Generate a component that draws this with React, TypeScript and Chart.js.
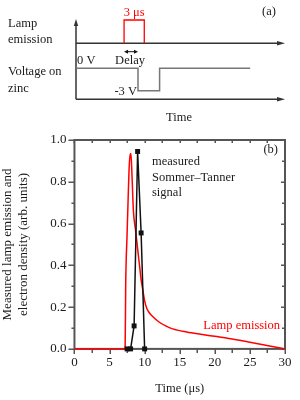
import React, { useEffect, useRef } from 'react';
import { Chart, registerables } from 'chart.js';
Chart.register(...registerables);

const FONT = '"Liberation Serif", "Times New Roman", serif';
const AXIS = '#555';
const TEXT = '#1a1a1a';
const RED = '#ff0000';

// ---- (a) timing diagram (schematic, arbitrary time units) ----
const pulseTime = [6.9, 6.9, 9.8, 9.8];
const pulseLevel = [0, 1, 1, 0];
const voltTime = [0, 8.9, 8.9, 12, 12, 25];
const voltLevel = [0, 0, -3, -3, 0, 0];
const delayFrom = 6.9;
const delayTo = 8.9;

// ---- (b) measured signals ----
const lampTime = [0, 7.22, 7.3, 7.5, 7.65, 7.8, 7.95, 8.05, 8.2, 8.4, 8.7, 9.0, 9.3, 9.5, 9.7, 10.0, 10.3, 10.7, 11, 12, 13, 14, 16, 18, 20, 22, 25, 28, 30];
const lampValue = [0, 0, 0.3, 0.55, 0.72, 0.87, 0.93, 0.935, 0.83, 0.66, 0.57, 0.48, 0.39, 0.33, 0.29, 0.23, 0.195, 0.172, 0.16, 0.13, 0.11, 0.096, 0.081, 0.07, 0.06, 0.05, 0.032, 0.013, 0];
const stTime = [7.5, 8, 8.5, 9, 9.5, 10];
const stValue = [0, 0, 0.11, 0.945, 0.555, 0];

const xTitle = 'Time (\u03bcs)';
const yTitle = ['Measured lamp emission and', 'electron density (arb. units)'];
const stLabel = ['measured', 'Sommer\u2013Tanner', 'signal'];

function arrowHead(ctx: CanvasRenderingContext2D, x: number, y: number, dx: number, dy: number, len: number, hw: number) {
  const nx = -dy, ny = dx;
  ctx.beginPath();
  ctx.moveTo(x, y);
  ctx.lineTo(x - dx * len + nx * hw, y - dy * len + ny * hw);
  ctx.lineTo(x - dx * len - nx * hw, y - dy * len - ny * hw);
  ctx.closePath();
  ctx.fill();
}

const topPlugin = {
  id: 'topDiagram',
  beforeDatasetsDraw(chart: any) {
    const { ctx, chartArea: a, scales } = chart;
    const yl = scales.yLamp;
    ctx.save();
    ctx.strokeStyle = '#333';
    ctx.fillStyle = '#333';
    ctx.lineWidth = 1.5;
    const base = yl.getPixelForValue(0);
    const right = a.right;
    ctx.beginPath();
    ctx.moveTo(a.left, a.bottom);
    ctx.lineTo(a.left, a.top + 4);
    ctx.stroke();
    arrowHead(ctx, a.left, a.top - 1, 0, -1, 7, 2.2);
    ctx.beginPath();
    ctx.moveTo(a.left, base);
    ctx.lineTo(right - 4, base);
    ctx.stroke();
    arrowHead(ctx, right, base, 1, 0, 8, 2.2);
    ctx.beginPath();
    ctx.moveTo(a.left, a.bottom);
    ctx.lineTo(right - 4, a.bottom);
    ctx.stroke();
    arrowHead(ctx, right, a.bottom, 1, 0, 8, 2.2);
    ctx.restore();
  },
  afterDatasetsDraw(chart: any) {
    const { ctx, chartArea: a, scales } = chart;
    const yl = scales.yLamp;
    const yv = scales.yVolt;
    const xs = scales.x;
    ctx.save();
    const dy = yl.getPixelForValue(-0.36);
    const x1 = xs.getPixelForValue(delayFrom);
    const x2 = xs.getPixelForValue(delayTo);
    ctx.strokeStyle = '#111';
    ctx.fillStyle = '#111';
    ctx.lineWidth = 1;
    ctx.beginPath();
    ctx.moveTo(x1 + 3, dy);
    ctx.lineTo(x2 - 3, dy);
    ctx.stroke();
    arrowHead(ctx, x1, dy, -1, 0, 4, 2);
    arrowHead(ctx, x2, dy, 1, 0, 4, 2);

    ctx.font = `12.5px ${FONT}`;
    ctx.textBaseline = 'middle';
    ctx.fillStyle = RED;
    ctx.textAlign = 'center';
    ctx.fillText('3 \u03bcs', (xs.getPixelForValue(pulseTime[0]) + xs.getPixelForValue(pulseTime[2])) / 2, yl.getPixelForValue(1) - 7);
    ctx.fillStyle = TEXT;
    ctx.fillText('Delay', (x1 + x2) / 2 - 1, dy + 9.5);
    ctx.fillText('Time', 179, a.bottom + 18);
    ctx.fillText('(a)', 269, 12);
    ctx.textAlign = 'left';
    ctx.fillText('0 V', a.left + 1, yv.getPixelForValue(0) - 7.5);
    ctx.fillText('Lamp', 8, 24);
    ctx.fillText('emission', 8, 39.5);
    ctx.fillText('Voltage on', 8, 72);
    ctx.fillText('zinc', 8, 89);
    ctx.textAlign = 'right';
    ctx.fillText('-3 V', xs.getPixelForValue(voltTime[2]) - 1, yv.getPixelForValue(-3) + 1.5);
    ctx.restore();
  },
};

const bottomPlugin = {
  id: 'bottomFrame',
  beforeDatasetsDraw(chart: any) {
    const { ctx, chartArea: a, scales } = chart;
    const xs = scales.x, ys = scales.y;
    ctx.save();
    ctx.strokeStyle = AXIS;
    ctx.lineWidth = 1.5;
    ctx.beginPath();
    xs.ticks.forEach((t: any) => {
      const px = Math.round(xs.getPixelForValue(t.value)) + 0.25;
      const major = Math.round(t.value * 10) % 50 === 0;
      ctx.moveTo(px, a.bottom);
      ctx.lineTo(px, a.bottom + (major ? 5 : 4));
      ctx.moveTo(px, a.top);
      ctx.lineTo(px, a.top + 3);
    });
    ys.ticks.forEach((t: any) => {
      const py = Math.round(ys.getPixelForValue(t.value)) + 0.25;
      const major = Math.round(t.value * 10) % 2 === 0;
      ctx.moveTo(a.left, py);
      ctx.lineTo(a.left - (major ? 6 : 3), py);
      ctx.moveTo(a.right, py);
      ctx.lineTo(a.right - (major ? 4 : 3), py);
    });
    ctx.stroke();
    ctx.lineWidth = 2;
    ctx.strokeRect(a.left, a.top, a.right - a.left, a.bottom - a.top);
    ctx.restore();
  },
  afterDatasetsDraw(chart: any) {
    const { ctx, chartArea: a, scales } = chart;
    const xs = scales.x, ys = scales.y;
    ctx.save();
    ctx.font = `12.5px ${FONT}`;
    ctx.textBaseline = 'middle';
    ctx.fillStyle = TEXT;
    ctx.textAlign = 'left';
    const ys0 = [0.895, 0.818, 0.746];
    stLabel.forEach((s, i) => ctx.fillText(s, xs.getPixelForValue(11.05), ys.getPixelForValue(ys0[i])));
    ctx.textAlign = 'right';
    ctx.fillText('(b)', a.right - 7, a.top + 10);
    ctx.fillStyle = RED;
    ctx.fillText('Lamp emission', xs.getPixelForValue(29.3), ys.getPixelForValue(0.11));
    ctx.restore();
  },
};

export default function App() {
  const topRef = useRef<HTMLCanvasElement>(null);
  const botRef = useRef<HTMLCanvasElement>(null);

  useEffect(() => {
    Chart.defaults.font.family = FONT;
    const top = new Chart(topRef.current!, {
      type: 'line',
      data: {
        datasets: [
          {
            data: pulseTime.map((t, i) => ({ x: t, y: pulseLevel[i] })),
            yAxisID: 'yLamp',
            borderColor: RED,
            borderWidth: 1.3,
            pointRadius: 0,
            tension: 0,
            clip: false,
          },
          {
            data: voltTime.map((t, i) => ({ x: t, y: voltLevel[i] })),
            yAxisID: 'yVolt',
            borderColor: '#777',
            borderWidth: 1.5,
            pointRadius: 0,
            tension: 0,
            clip: false,
          },
        ],
      },
      options: {
        responsive: false,
        animation: false,
        events: [],
        layout: { padding: { left: 76, right: 15, top: 20, bottom: 30.7 } },
        plugins: { legend: { display: false }, tooltip: { enabled: false } },
        scales: {
          x: { type: 'linear', min: 0, max: 30, display: false },
          yLamp: { type: 'linear', min: -2.403, max: 1, display: false },
          yVolt: { type: 'linear', min: -4.15, max: 6.47, display: false },
        },
      },
      plugins: [topPlugin],
    } as any);

    const bot = new Chart(botRef.current!, {
      type: 'line',
      data: {
        datasets: [
          {
            data: stTime.map((t, i) => ({ x: t, y: stValue[i] })),
            borderColor: '#111',
            backgroundColor: '#111',
            borderWidth: 1.5,
            pointStyle: 'rect',
            pointRadius: 3.5,
            pointBorderWidth: 0,
            tension: 0,
            clip: false,
            order: 0,
          },
          {
            data: lampTime.map((t, i) => ({ x: t, y: lampValue[i] })),
            borderColor: RED,
            borderWidth: 1.5,
            pointRadius: 0,
            cubicInterpolationMode: 'monotone',
            clip: false,
            order: 1,
          },
        ],
      },
      options: {
        responsive: false,
        animation: false,
        events: [],
        layout: { padding: { left: 0, right: 15, top: 10, bottom: 0 } },
        plugins: { legend: { display: false }, tooltip: { enabled: false } },
        scales: {
          x: {
            type: 'linear',
            min: 0,
            max: 30,
            grid: { display: false, drawTicks: false },
            border: { display: false },
            ticks: {
              stepSize: 2.5,
              autoSkip: false,
              maxRotation: 0,
              padding: 6,
              color: TEXT,
              font: { size: 13, family: FONT },
              callback: (v: any) => (Math.round(v * 10) % 50 === 0 ? String(v) : ''),
            },
            title: {
              display: true,
              text: xTitle,
              color: TEXT,
              font: { size: 12.5, family: FONT },
              padding: { top: 5, bottom: 3.5 },
            },
          },
          y: {
            type: 'linear',
            min: 0,
            max: 1,
            afterFit: (s: any) => {
              s.paddingTop = 0;
              s.paddingBottom = 0;
            },
            grid: { display: false, drawTicks: false },
            border: { display: false },
            ticks: {
              stepSize: 0.1,
              autoSkip: false,
              padding: 8,
              color: TEXT,
              font: { size: 13, family: FONT },
              callback: (v: any) => (Math.round(v * 10) % 2 === 0 ? Number(v).toFixed(1) : ''),
            },
            title: {
              display: true,
              text: yTitle,
              color: TEXT,
              font: { size: 13, family: FONT, lineHeight: 1.2 },
              padding: { top: 0, bottom: 11 },
            },
          },
        },
      },
      plugins: [bottomPlugin],
    } as any);

    return () => {
      top.destroy();
      bot.destroy();
    };
  }, []);

  return (
    <div style={{ position: 'absolute', left: 0, top: 0, width: 300, height: 400, background: '#fff' }}>
      <canvas ref={topRef} width={300} height={130} style={{ display: 'block', width: 300, height: 130 }} />
      <canvas ref={botRef} width={300} height={270} style={{ display: 'block', width: 300, height: 270 }} />
    </div>
  );
}
